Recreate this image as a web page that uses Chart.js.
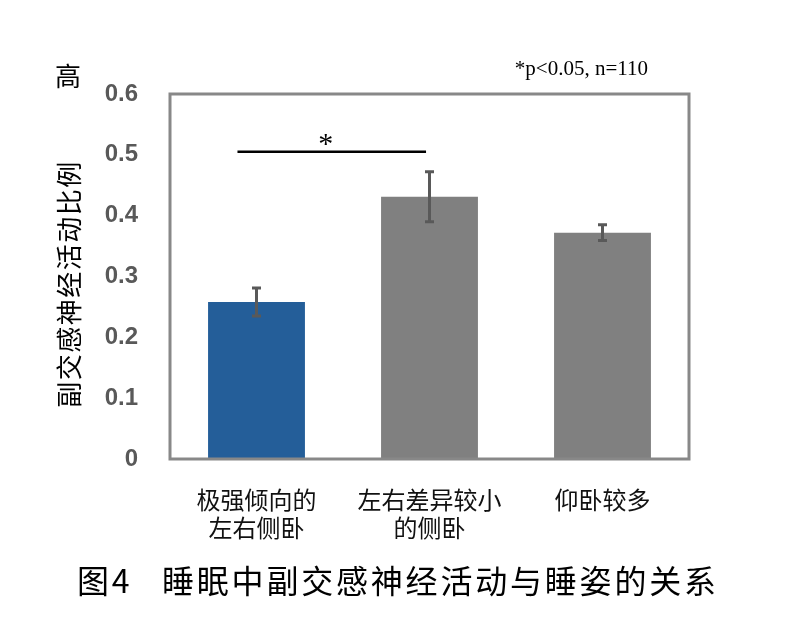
<!DOCTYPE html>
<html>
<head>
<meta charset="utf-8">
<script src="https://cdn.jsdelivr.net/npm/chart.js@4.4.1/dist/chart.umd.min.js"></script>
<style>
  html, body { margin: 0; padding: 0; background: #fff; }
  canvas { display: block; }
</style>
</head>
<body>
<canvas id="sleepChart" width="794" height="623"></canvas>
<script>
// 数据
const categories = [['极强倾向的', '左右侧卧'], ['左右差异较小', '的侧卧'], ['仰卧较多']];
const ratios = [0.258, 0.431, 0.372];
const errors = [0.023, 0.041, 0.013];
const barColors = ['#245e99', '#808080', '#808080'];
const yTicks = [0, 0.1, 0.2, 0.3, 0.4, 0.5, 0.6];
const yTitle = '副交感神经活动比例';
const yTop = '高';
const note = '*p<0.05, n=110';
const figLabel = '图4';
const figTitle = '睡眠中副交感神经活动与睡姿的关系';
// significance bracket: from/to in category index units, level in y units
const sigFrom = -0.11, sigTo = 0.98, sigLevel = 0.505, sigStarAt = 0.4;

const cjk = '"Noto Sans CJK SC", sans-serif';

// error bars, significance line, frame and free texts
const extras = {
  id: 'extras',
  afterDatasetsDraw(chart) {
    const { ctx, chartArea: a, scales: { x, y } } = chart;
    ctx.save();

    // error bars
    ctx.strokeStyle = '#595959';
    ctx.lineWidth = 3;
    ratios.forEach((v, i) => {
      const px = x.getPixelForValue(i);
      const top = y.getPixelForValue(v + errors[i]);
      const bot = y.getPixelForValue(v - errors[i]);
      ctx.beginPath();
      ctx.moveTo(px, top); ctx.lineTo(px, bot);
      ctx.moveTo(px - 4.5, top); ctx.lineTo(px + 4.5, top);
      ctx.moveTo(px - 4.5, bot); ctx.lineTo(px + 4.5, bot);
      ctx.stroke();
    });

    // frame
    ctx.strokeStyle = '#888888';
    ctx.lineWidth = 3;
    ctx.strokeRect(a.left, a.top, a.right - a.left, a.bottom - a.top);

    // significance line
    const sy = y.getPixelForValue(sigLevel);
    ctx.strokeStyle = '#000';
    ctx.lineWidth = 2.5;
    ctx.beginPath();
    ctx.moveTo(x.getPixelForValue(sigFrom), sy);
    ctx.lineTo(x.getPixelForValue(sigTo), sy);
    ctx.stroke();
    ctx.fillStyle = '#000';
    ctx.font = '30px "Liberation Serif", serif';
    ctx.textAlign = 'center';
    ctx.textBaseline = 'middle';
    ctx.fillText('*', x.getPixelForValue(sigStarAt), sy - 7);

    // note
    ctx.font = '21px "Liberation Serif", serif';
    ctx.textAlign = 'right';
    ctx.fillText(note, 648, 69);

    // y title
    ctx.font = '26px ' + cjk;
    ctx.textAlign = 'center';
    ctx.fillText(yTop, 68, 76);
    ctx.translate(69, 284);
    ctx.rotate(-Math.PI / 2);
    ctx.letterSpacing = '1.5px';
    ctx.fillText(yTitle, 0, 0);
    ctx.setTransform(1, 0, 0, 1, 0, 0);
    ctx.scale(chart.currentDevicePixelRatio, chart.currentDevicePixelRatio);

    // figure caption
    ctx.font = '32px ' + cjk;
    ctx.letterSpacing = '2.8px';
    ctx.textAlign = 'left';
    ctx.fillText(figLabel, 77, 581);
    ctx.fillText(figTitle, 162, 581);
    ctx.restore();
  }
};

new Chart(document.getElementById('sleepChart').getContext('2d'), {
  type: 'bar',
  data: {
    labels: categories,
    datasets: [{
      data: ratios,
      backgroundColor: barColors,
      borderWidth: 0,
      barPercentage: 0.56,
      categoryPercentage: 1
    }]
  },
  options: {
    responsive: false,
    animation: false,
    layout: { padding: { left: 0, right: 105, top: 94, bottom: 0 } },
    plugins: { legend: { display: false }, tooltip: { enabled: false } },
    scales: {
      x: {
        grid: { display: false },
        border: { display: false },
        ticks: {
          color: '#111',
          font: { family: cjk, size: 24, lineHeight: 1.2 },
          padding: 18,
          maxRotation: 0
        },
        afterFit(s) { s.height = 164; }
      },
      y: {
        min: 0,
        max: 0.6,
        grid: { display: false },
        border: { display: false },
        afterBuildTicks(s) { s.ticks = yTicks.map(v => ({ value: v })); },
        ticks: {
          color: '#595959',
          font: { family: '"Liberation Sans", Arial, sans-serif', size: 24, weight: 'bold' },
          padding: 24,
          callback: v => String(+v.toFixed(1))
        },
        afterFit(s) { s.width = 170; }
      }
    }
  },
  plugins: [extras]
});
</script>
</body>
</html>
